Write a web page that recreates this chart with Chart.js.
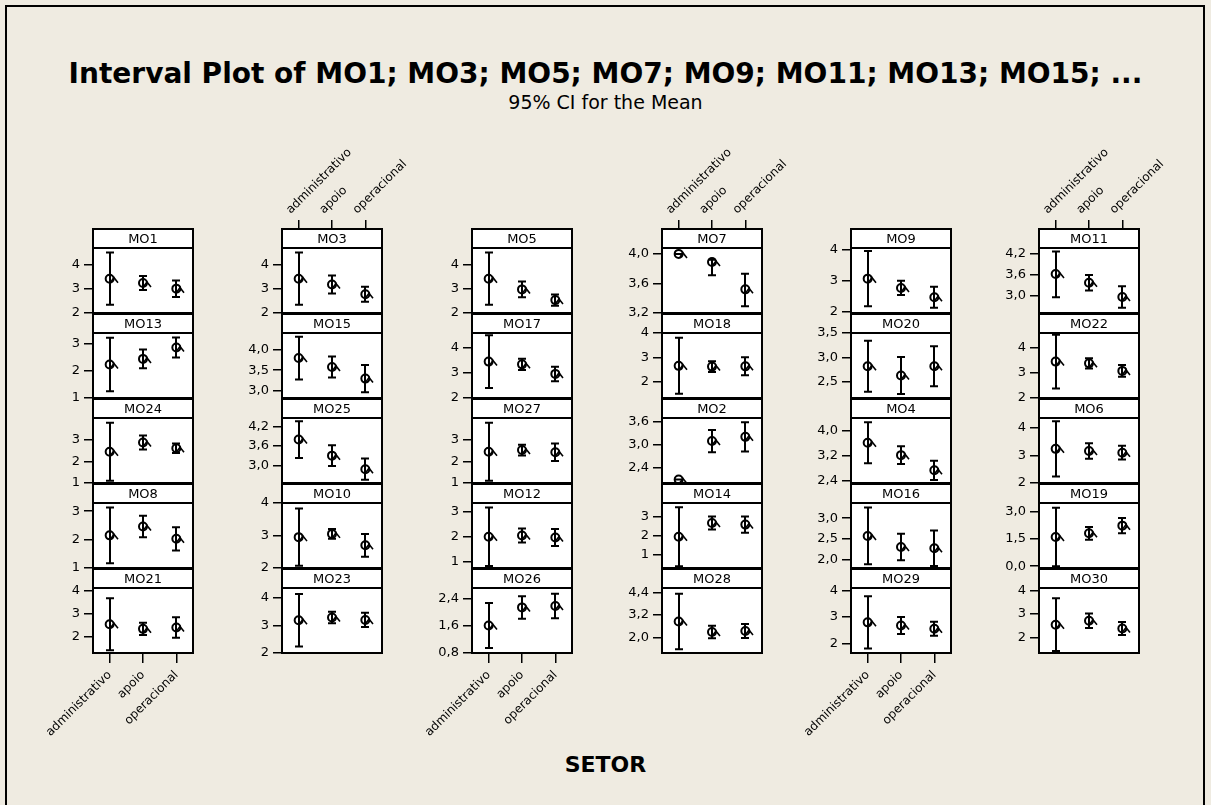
<!DOCTYPE html>
<html>
<head>
<meta charset="utf-8">
<title>Interval Plot</title>
<script src="https://cdn.jsdelivr.net/npm/chart.js@4.4.1/dist/chart.umd.min.js"></script>
<style>
  html, body { margin: 0; padding: 0; }
  body { width: 1211px; height: 805px; background: #efebe1; position: relative; overflow: hidden;
         font-family: "DejaVu Sans", Verdana, sans-serif; color: #000; }
  #frame { position: absolute; left: 5px; top: 5px; width: 1200px; height: 830px; border: 2px solid #000; box-sizing: border-box; }
  .txt { position: absolute; left: 0; width: 1211px; text-align: center; white-space: nowrap; }
  #title { top: 57px; font-size: 28px; line-height: 34px; font-weight: bold; }
  #subtitle { top: 91px; font-size: 19px; line-height: 22px; }
  #xlabel { top: 752px; font-size: 22px; line-height: 26px; font-weight: bold; }
  canvas { position: absolute; }
</style>
</head>
<body>
<div id="frame"></div>
<div class="txt" id="title">Interval Plot of MO1; MO3; MO5; MO7; MO9; MO11; MO13; MO15; ...</div>
<div class="txt" id="subtitle">95% CI for the Mean</div>
<div class="txt" id="xlabel">SETOR</div>
<div id="panels"></div>
<script>
// SETOR groups (x categories of every panel)
const categories = ['administrativo', 'apoio', 'operacional'];

// panels in the order they sit on the page (row by row, 6 per row)
const panelNames = [
  'MO1', 'MO3', 'MO5', 'MO7', 'MO9', 'MO11',
  'MO13', 'MO15', 'MO17', 'MO18', 'MO20', 'MO22',
  'MO24', 'MO25', 'MO27', 'MO2', 'MO4', 'MO6',
  'MO8', 'MO10', 'MO12', 'MO14', 'MO16', 'MO19',
  'MO21', 'MO23', 'MO26', 'MO28', 'MO29', 'MO30'
];

// mean per group
const means = [
  [3.41, 3.23, 3.00], [3.41, 3.17, 2.77], [3.41, 2.97, 2.53], [4.00, 3.89, 3.52], [3.06, 2.76, 2.46], [3.62, 3.37, 2.96],
  [2.24, 2.45, 2.87], [3.80, 3.58, 3.29], [3.45, 3.34, 2.96], [2.65, 2.62, 2.63], [2.82, 2.63, 2.82], [3.45, 3.38, 3.08],
  [2.44, 2.87, 2.60], [3.80, 3.30, 2.88], [2.44, 2.52, 2.42], [2.09, 3.09, 3.20], [3.62, 3.22, 2.73], [3.24, 3.16, 3.10],
  [2.15, 2.46, 2.03], [2.95, 3.05, 2.70], [1.99, 2.04, 1.96], [1.95, 2.66, 2.58], [2.57, 2.30, 2.27], [1.60, 1.80, 2.22],
  [2.54, 2.34, 2.40], [3.19, 3.29, 3.20], [1.61, 2.14, 2.18], [2.85, 2.29, 2.35], [2.80, 2.68, 2.56], [2.54, 2.71, 2.38]
];

// 95% CI lower limit per group
const lowerCI = [
  [2.34, 2.94, 2.66], [2.34, 2.80, 2.46], [2.34, 2.65, 2.30], [4.00, 3.71, 3.29], [2.17, 2.53, 2.12], [2.95, 3.15, 2.65],
  [1.25, 2.10, 2.50], [3.27, 3.32, 2.95], [2.40, 3.12, 2.67], [1.50, 2.40, 2.26], [2.30, 2.25, 2.41], [2.38, 3.18, 2.85],
  [1.10, 2.55, 2.38], [3.23, 2.98, 2.55], [1.10, 2.27, 2.02], [2.09, 2.80, 2.82], [2.96, 2.93, 2.42], [2.24, 2.88, 2.85],
  [1.17, 2.08, 1.62], [2.07, 2.90, 2.35], [0.83, 1.76, 1.62], [0.42, 2.32, 2.16], [1.88, 1.98, 1.84], [0.00, 1.45, 1.80],
  [1.42, 2.08, 1.96], [2.24, 3.08, 2.94], [0.95, 1.81, 1.82], [1.38, 1.96, 1.98], [1.82, 2.36, 2.30], [1.42, 2.40, 2.10]
];

// 95% CI upper limit per group
const upperCI = [
  [4.49, 3.52, 3.34], [4.49, 3.54, 3.08], [4.49, 3.29, 2.76], [4.00, 3.92, 3.73], [3.95, 2.99, 2.80], [4.27, 3.59, 3.27],
  [3.23, 2.80, 3.24], [4.33, 3.84, 3.63], [4.50, 3.56, 3.25], [3.80, 2.84, 3.00], [3.34, 3.01, 3.23], [4.52, 3.58, 3.31],
  [3.78, 3.19, 2.82], [4.37, 3.62, 3.21], [3.78, 2.77, 2.82], [2.09, 3.38, 3.58], [4.28, 3.51, 3.04], [4.24, 3.44, 3.35],
  [3.13, 2.84, 2.44], [3.83, 3.20, 3.05], [3.15, 2.32, 2.30], [3.48, 3.00, 3.00], [3.26, 2.62, 2.70], [3.20, 2.15, 2.64],
  [3.66, 2.60, 2.84], [4.14, 3.50, 3.46], [2.27, 2.47, 2.54], [4.32, 2.62, 2.72], [3.78, 3.00, 2.82], [3.66, 3.02, 2.66]
];

// y axis range of every panel
const yMin = [
  2, 2, 2, 3.2, 1.95, 2.5,
  1, 2.81, 2, 1.33, 2.17, 2,
  1, 2.45, 1, 2.0, 2.32, 2,
  1, 2, 0.75, 0.33, 1.79, -0.1,
  1.30, 2, 0.8, 1.18, 1.65, 1.34
];
const yMax = [
  4.67, 4.67, 4.67, 4.08, 4.05, 4.37,
  3.41, 4.42, 4.59, 4.0, 3.5, 4.59,
  4.0, 4.47, 4.0, 3.69, 4.42, 4.36,
  3.29, 4.0, 3.33, 3.70, 3.37, 3.46,
  4.1, 4.36, 2.71, 4.63, 4.09, 4.1
];

// y tick values and how many decimals the labels show
const yTicks = [
  [2, 3, 4], [2, 3, 4], [2, 3, 4], [3.2, 3.6, 4.0], [2, 3, 4], [3.0, 3.6, 4.2],
  [1, 2, 3], [3.0, 3.5, 4.0], [2, 3, 4], [2, 3, 4], [2.5, 3.0, 3.5], [2, 3, 4],
  [1, 2, 3], [3.0, 3.6, 4.2], [1, 2, 3], [2.4, 3.0, 3.6], [2.4, 3.2, 4.0], [2, 3, 4],
  [1, 2, 3], [2, 3, 4], [1, 2, 3], [1, 2, 3], [2.0, 2.5, 3.0], [0.0, 1.5, 3.0],
  [2, 3, 4], [2, 3, 4], [0.8, 1.6, 2.4], [2.0, 3.2, 4.4], [2, 3, 4], [2, 3, 4]
];
const yDecimals = [
  0, 0, 0, 1, 0, 1,
  0, 1, 0, 0, 1, 0,
  0, 1, 0, 1, 1, 0,
  0, 0, 0, 0, 1, 1,
  0, 0, 1, 1, 0, 0
];

// page layout
const colLeft = [93, 282, 472, 662, 851, 1039];
const firstStripTop = 229;
const rowPitch = 85;
const stripH = 19;
const plotH = 65;
const plotW = 100;
const EXTRA = 110;   // room above / below each panel for labels
const SIDE = 100;    // room left / right of each panel
const AXIS_W = 48;   // width of the y axis
const FONT = '"DejaVu Sans", Verdana, sans-serif';

function fmt(v, dec) {
  return dec ? v.toFixed(1).replace('.', ',') : String(Math.round(v));
}

// white plot area, intervals, frame and the title strip of a panel
const intervalPlugin = {
  id: 'interval',
  beforeDraw(chart) {
    const {ctx, chartArea} = chart;
    ctx.save();
    ctx.fillStyle = '#fff';
    ctx.fillRect(chartArea.left, chartArea.top, chartArea.right - chartArea.left, chartArea.bottom - chartArea.top);
    ctx.restore();
  },
  beforeDatasetsDraw(chart, args, opts) {
    const {ctx, chartArea} = chart;
    const p = opts.panel;
    const x = chart.scales.x, y = chart.scales.y;
    ctx.save();
    ctx.beginPath();
    ctx.rect(chartArea.left, chartArea.top, chartArea.right - chartArea.left, chartArea.bottom - chartArea.top);
    ctx.clip();
    ctx.strokeStyle = '#000';
    categories.forEach((c, i) => {
      const px = Math.round(x.getPixelForValue(i));
      const lo = y.getPixelForValue(lowerCI[p][i]);
      const hi = y.getPixelForValue(upperCI[p][i]);
      const pm = y.getPixelForValue(means[p][i]);
      ctx.lineWidth = 2;
      ctx.beginPath();
      ctx.moveTo(px, lo); ctx.lineTo(px, hi);
      ctx.moveTo(px - 4, lo); ctx.lineTo(px + 4, lo);
      ctx.moveTo(px - 4, hi); ctx.lineTo(px + 4, hi);
      ctx.stroke();
      // small caret next to the mean symbol
      ctx.lineWidth = 1.6;
      ctx.beginPath();
      ctx.moveTo(px + 1, pm + 3);
      ctx.lineTo(px + 4, pm - 1);
      ctx.lineTo(px + 8, pm + 4);
      ctx.stroke();
    });
    ctx.restore();
  },
  afterDraw(chart, args, opts) {
    const {ctx, chartArea} = chart;
    const w = chartArea.right - chartArea.left;
    ctx.save();
    ctx.lineWidth = 2;
    ctx.strokeStyle = '#000';
    ctx.strokeRect(chartArea.left, chartArea.top, w, chartArea.bottom - chartArea.top);
    ctx.fillStyle = '#fff';
    ctx.fillRect(chartArea.left, chartArea.top - stripH, w, stripH);
    ctx.strokeRect(chartArea.left, chartArea.top - stripH, w, stripH);
    ctx.fillStyle = '#000';
    ctx.font = '13px ' + FONT;
    ctx.textAlign = 'center';
    ctx.textBaseline = 'middle';
    ctx.fillText(panelNames[opts.panel], chartArea.left + w / 2, chartArea.top - stripH / 2 + 1);
    ctx.restore();
  }
};

const holder = document.getElementById('panels');

panelNames.forEach((name, p) => {
  const r = Math.floor(p / 6), c = p % 6;
  const hasTop = r === 0 && c % 2 === 1;
  const hasBottom = r === 4 && c % 2 === 0;
  const showX = hasTop || hasBottom;
  const stripTop = firstStripTop + r * rowPitch;

  const canvas = document.createElement('canvas');
  canvas.width = plotW + 2 * SIDE;
  canvas.height = EXTRA + stripH + plotH + EXTRA;
  canvas.style.left = (colLeft[c] - SIDE) + 'px';
  canvas.style.top = (stripTop - EXTRA) + 'px';
  holder.appendChild(canvas);

  new Chart(canvas, {
    type: 'line',
    data: {
      labels: categories,
      datasets: [{
        data: means[p],
        showLine: false,
        pointStyle: 'circle',
        pointRadius: 4,
        pointBorderWidth: 2,
        pointBorderColor: '#000',
        pointBackgroundColor: 'rgba(0,0,0,0)'
      }]
    },
    options: {
      responsive: false,
      animation: false,
      devicePixelRatio: 1,
      events: [],
      layout: {
        padding: {
          left: SIDE - AXIS_W,
          right: SIDE,
          top: hasTop ? 0 : EXTRA + stripH,
          bottom: hasBottom ? 0 : EXTRA
        }
      },
      plugins: {
        legend: { display: false },
        tooltip: { enabled: false },
        interval: { panel: p }
      },
      scales: {
        x: {
          type: 'category',
          offset: true,
          display: showX,
          position: hasTop ? 'top' : 'bottom',
          border: { display: false },
          grid: { drawOnChartArea: false, offset: false, color: '#000', lineWidth: 1.5,
                  tickLength: hasTop ? stripH + 9 : 10 },
          ticks: { autoSkip: false, minRotation: 45, maxRotation: 45, padding: hasTop ? 3 : 5, color: '#000',
                   font: { family: FONT, size: 12 } },
          afterFit(s) {
            if (!showX) return;
            s.height = hasTop ? EXTRA + stripH : EXTRA;
            s.paddingLeft = 0;
            s.paddingRight = 0;
          }
        },
        y: {
          min: yMin[p],
          max: yMax[p],
          border: { display: false },
          grid: { drawOnChartArea: false, color: '#000', lineWidth: 1.5, tickLength: 9 },
          ticks: { color: '#000', padding: 4, font: { family: FONT, size: 13 },
                   callback: v => fmt(v, yDecimals[p]) },
          afterBuildTicks(s) {
            s.ticks = yTicks[p].map(v => ({ value: v }));
          },
          afterFit(s) { s.width = AXIS_W; }
        }
      }
    },
    plugins: [intervalPlugin]
  });
});
</script>
</body>
</html>
